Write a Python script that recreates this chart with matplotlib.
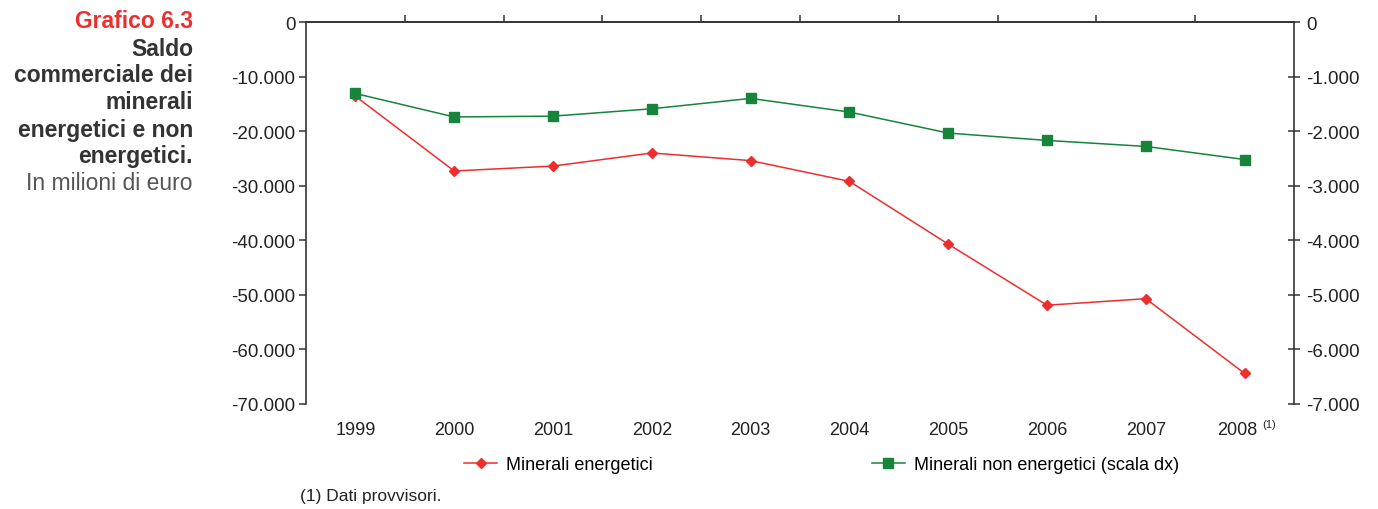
import matplotlib
matplotlib.use('Agg')
from matplotlib import pyplot as plt
from matplotlib.ticker import FuncFormatter, FixedLocator
from matplotlib.transforms import ScaledTranslation

# dati (milioni di euro)
anni = ['1999', '2000', '2001', '2002', '2003', '2004', '2005', '2006', '2007', '2008']
energetici = [-13600, -27300, -26400, -24000, -25400, -29200, -40700, -51900, -50700, -64400]
non_energetici = [-1310, -1740, -1725, -1590, -1400, -1650, -2035, -2170, -2280, -2520]

rosso = '#ee2e2e'
verde = '#16843a'
grigio = '#333333'
testo_col = '#222222'

plt.rcParams['font.family'] = ['Liberation Sans', 'DejaVu Sans']

W, H = 1378, 510
fig = plt.figure(figsize=(W / 100, H / 100), dpi=100)
ax = fig.add_axes([306 / W, 1 - 405 / H, 988 / W, 382 / H])
ax2 = ax.twinx()


def migliaia(v, pos):
    return f'{int(round(v)):,}'.replace(',', '.')


x = list(range(len(anni)))
l1, = ax.plot(x, energetici, color=rosso, lw=1.1, marker='D', markersize=5.5,
              label='Minerali energetici')
l2, = ax2.plot(x, non_energetici, color=verde, lw=1.1, marker='s', markersize=6.8,
               label='Minerali non energetici (scala dx)')

ax.set_xlim(-0.5, len(anni) - 0.5)
ax.set_ylim(-70000, 0)
ax2.set_ylim(-7000, 0)
ax.set_yticks(range(-70000, 1, 10000))
ax2.set_yticks(range(-7000, 1, 1000))
ax.yaxis.set_major_formatter(FuncFormatter(migliaia))
ax2.yaxis.set_major_formatter(FuncFormatter(migliaia))

for a in (ax, ax2):
    a.spines['bottom'].set_visible(False)
    for s in ('top', 'left', 'right'):
        a.spines[s].set_color(grigio)
        a.spines[s].set_linewidth(1.2)
ax.spines['right'].set_visible(False)
ax2.spines['left'].set_visible(False)

# etichette anni in basso, tacche sui confini in alto
ax.set_xticks(x)
ax.set_xticklabels(anni)
ax.xaxis.set_minor_locator(FixedLocator([i + 0.5 for i in x[:-1]]))
ax.tick_params(axis='x', which='major', length=0, pad=12, labelsize=13,
               labelcolor=testo_col)
ax.tick_params(axis='x', which='minor', top=True, bottom=False, direction='out',
               length=5, width=1.1, color=grigio)
ax.tick_params(axis='y', direction='out', length=5, width=1.1, color=grigio,
               labelsize=13.5, labelcolor=testo_col, pad=2.5)
ax2.tick_params(axis='y', direction='inout', length=9, width=1.1, color=grigio,
                labelsize=13.5, labelcolor=testo_col, pad=4)

# 2008 spostato a sinistra per far posto alla nota
ultimo = ax.get_xticklabels()[-1]
ultimo.set_transform(ultimo.get_transform() + ScaledTranslation(-0.07, 0, fig.dpi_scale_trans))
ax.annotate('(1)', xy=(len(anni) - 1, 0), xycoords=('data', 'axes fraction'),
            xytext=(13, -14.5), textcoords='offset points', fontsize=8,
            color=testo_col, va='center', ha='left')

# titolo a sinistra
righe = [('Grafico 6.3', rosso, 'bold', 21),
         ('Saldo', grigio, 'bold', 49),
         ('commerciale dei', grigio, 'bold', 76),
         ('minerali', grigio, 'bold', 103),
         ('energetici e non', grigio, 'bold', 130),
         ('energetici.', grigio, 'bold', 157),
         ('In milioni di euro', '#555555', 'normal', 184)]
for testo, col, peso, ypix in righe:
    fig.text(193 / W, 1 - ypix / H, testo, ha='right', va='center', color=col,
             fontsize=16.5, fontweight=peso)

fig.legend(handles=[l1, l2], loc='center left', bbox_to_anchor=(464 / W, 1 - 466 / H),
           ncol=2, frameon=False, fontsize=13, handlelength=1.85, handletextpad=0.5,
           columnspacing=12.1, borderaxespad=0, borderpad=0)
fig.text(300 / W, 1 - 497 / H, '(1) Dati provvisori.', fontsize=12.5, color=testo_col,
         va='center', ha='left')

fig.savefig('out.png', dpi=100)
